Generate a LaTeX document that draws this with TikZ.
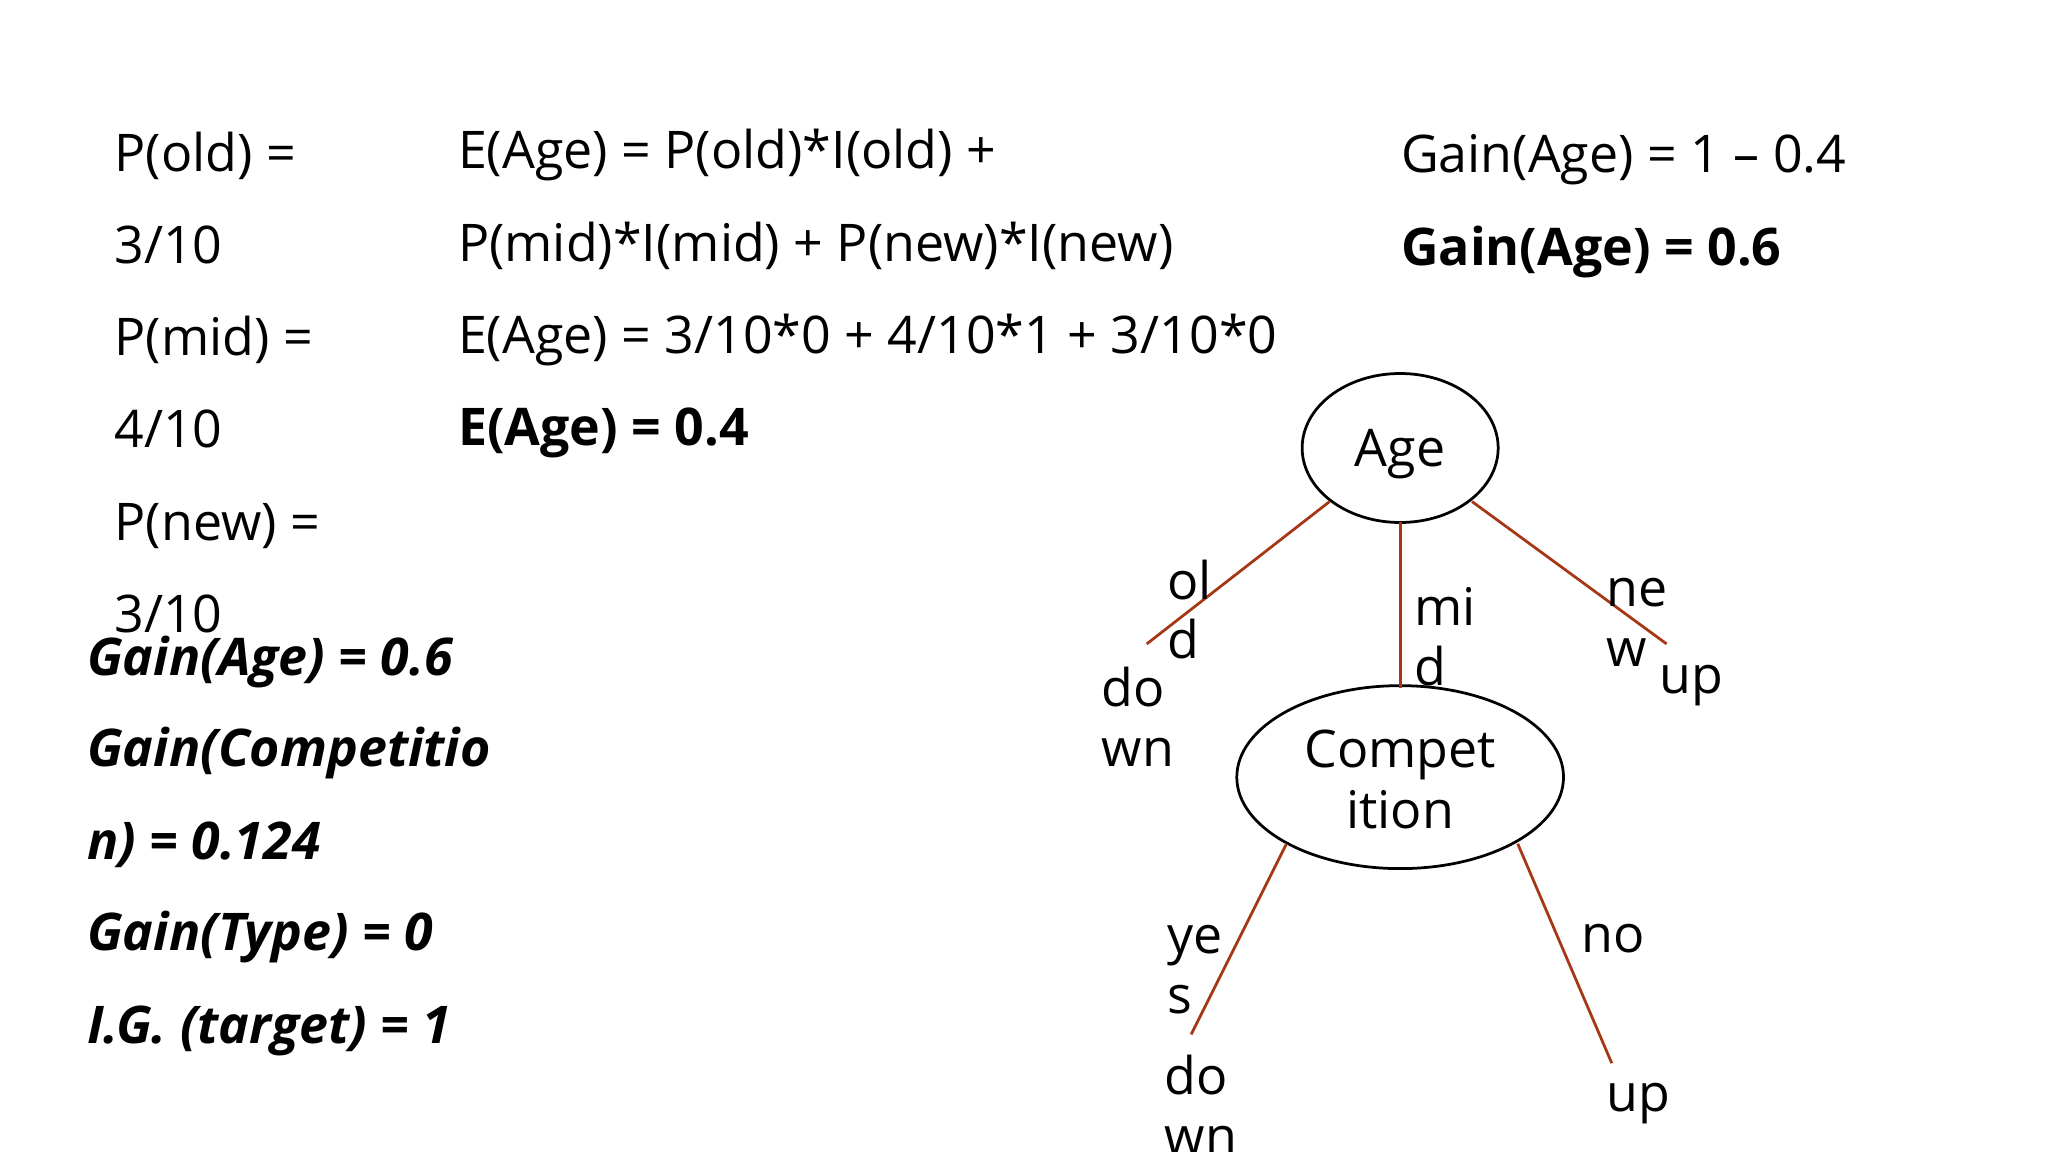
\documentclass[tikz,border=0pt]{standalone}
\usepackage{fontspec}
\setmainfont{Open Sans}
\usetikzlibrary{shapes.geometric}
\definecolor{edge}{RGB}{165,55,20}
\tikzset{
 t/.style={anchor=base west,inner sep=0pt,font=\fontsize{11.3}{14}\selectfont},
 tb/.style={t,font=\fontsize{11.3}{14}\selectfont\bfseries},
 tbi/.style={t,font=\fontsize{11.3}{14}\selectfont\bfseries\itshape},
 tc/.style={anchor=base,inner sep=0pt,font=\fontsize{11.3}{14}\selectfont},
 el/.style={draw,ellipse,line width=0.6pt},
 br/.style={draw=edge,line width=0.6pt}
}
\begin{document}
\begin{tikzpicture}[x=0.01cm,y=-0.01cm]
\useasboundingbox (0,0) rectangle (1568,882);
% left column
\node[t] (l1) at (87,131) {P(old) =};
\node[t] (l2) at (87,202) {3/10};
\node[t] (l3) at (87,272) {P(mid) =};
\node[t] (l4) at (87,343) {4/10};
\node[t] (l5) at (87,414) {P(new) =};
\node[t] (l6) at (87,484) {3/10};
% middle
\node[t] (m1) at (350,129) {E(Age) = P(old)*I(old) +};
\node[t] (m2) at (350,200) {P(mid)*I(mid) + P(new)*I(new)};
\node[t] (m3) at (350,271) {E(Age) = 3/10*0 + 4/10*1 + 3/10*0};
\node[tb] (m4) at (350,341) {E(Age) = 0.4};
% right
\node[t] (r1) at (1072,132) {Gain(Age) = 1 – 0.4};
\node[tb] (r2) at (1072,203) {Gain(Age) = 0.6};
% bold italic
\node[tbi] (g1) at (66,517) {Gain(Age) = 0.6};
\node[tbi] (g2) at (66,587) {Gain(Competitio};
\node[tbi] (g3) at (66,658) {n) = 0.124};
\node[tbi] (g4) at (66,728) {Gain(Type) = 0};
\node[tbi] (g5) at (66,799) {I.G. (target) = 1};
% tree
\node[el,inner sep=0pt,minimum width=1.5cm,minimum height=1.14cm] (age) at (1072,343) {};
\node[tc] (agel) at (1072,357) {Age};
\node[el,inner sep=0pt,minimum width=2.5cm,minimum height=1.4cm] (comp) at (1072,595) {};
\node[tc] (c1) at (1072,588) {Compet};
\node[tc] (c2) at (1072,634) {ition};
\coordinate (a1) at (1018,384); \coordinate (e1) at (878,493);
\coordinate (a2) at (1072,400); \coordinate (e2) at (1072,527);
\coordinate (a3) at (1127,384); \coordinate (e3) at (1276,493);
\coordinate (b1) at (985,646); \coordinate (f1) at (912,792);
\coordinate (b2) at (1162,646); \coordinate (f2) at (1234,814);
\draw[br] (a1) -- (e1);
\draw[br] (a2) -- (e2);
\draw[br] (a3) -- (e3);
\draw[br] (b1) -- (f1);
\draw[br] (b2) -- (f2);
\node[t] (o1) at (893,459) {ol};
\node[t] (o2) at (893,504) {d};
\node[t] (d1) at (843,541) {do};
\node[t] (d2) at (843,587) {wn};
\node[t] (mi1) at (1082,479) {mi};
\node[t] (mi2) at (1082,525) {d};
\node[t] (n1) at (1229,464) {ne};
\node[t] (n2) at (1229,510) {w};
\node[t] (u1) at (1270,531) {up};
\node[t] (y1) at (893,730) {ye};
\node[t] (y2) at (893,776) {s};
\node[t] (dd1) at (891,838) {do};
\node[t] (dd2) at (891,884) {wn};
\node[t] (no) at (1210,729) {no};
\node[t] (u2) at (1229,851) {up};
\end{tikzpicture}
\end{document}
